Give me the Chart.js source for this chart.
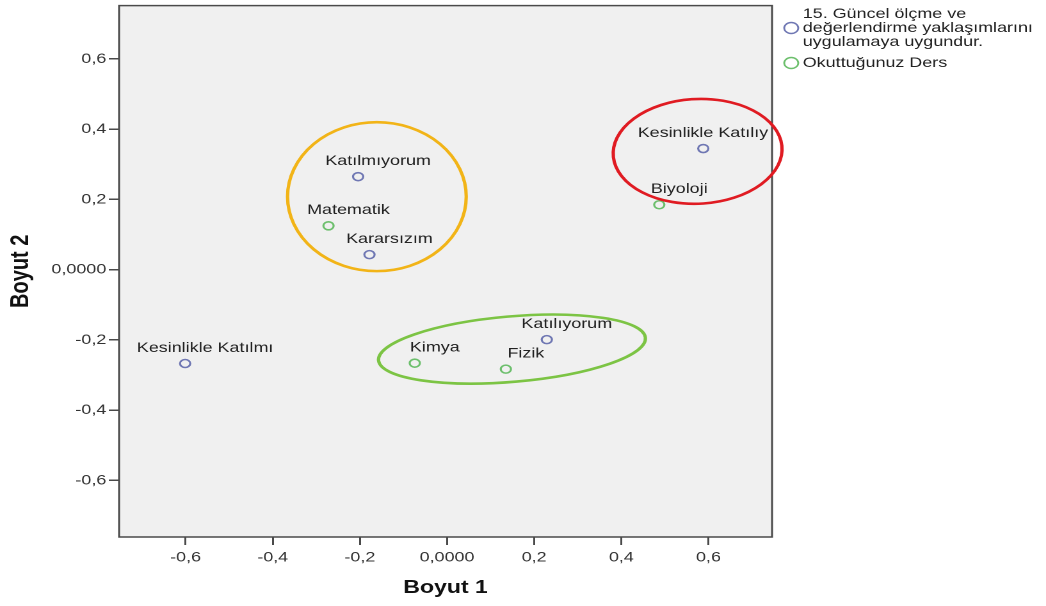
<!DOCTYPE html>
<html>
<head>
<meta charset="utf-8">
<script src="https://cdn.jsdelivr.net/npm/chart.js@4.4.0/dist/chart.umd.min.js"></script>
<style>
  html, body { margin: 0; padding: 0; background: #fff; overflow: hidden; }
  /* the original picture is stretched sideways, so the chart is too */
  #wrap { position: relative; width: 817px; height: 606px; transform: scaleX(1.2803); transform-origin: 0 0; }
</style>
</head>
<body>
<div id="wrap"><canvas id="chart"></canvas></div>
<script>
const xTicks = [-0.6, -0.4, -0.2, 0, 0.2, 0.4, 0.6];
const yTicks = [-0.6, -0.4, -0.2, 0, 0.2, 0.4, 0.6];

// 15. Güncel ölçme ... (answer categories)
const answerNames = ['Katılmıyorum', 'Kararsızım', 'Kesinlikle Katılmı', 'Katılıyorum', 'Kesinlikle Katılıy'];
const answerX = [-0.204, -0.178, -0.601, 0.229, 0.588];
const answerY = [0.265, 0.043, -0.267, -0.199, 0.345];

// Okuttuğunuz Ders
const courseNames = ['Matematik', 'Kimya', 'Fizik', 'Biyoloji'];
const courseX = [-0.272, -0.074, 0.135, 0.487];
const courseY = [0.125, -0.266, -0.283, 0.185];

const legendLines1 = ['15. Güncel ölçme ve', 'değerlendirme yaklaşımlarını', 'uygulamaya uygundur.'];
const legendText2 = 'Okuttuğunuz Ders';

// hand drawn circles round the groups (centre and radii in axis units)
const ellipses = [
  { cx: -0.161, cy: 0.208, rx: 0.205, ry: 0.212, rot: 0, color: '#f2b417' },
  { cx: 0.575, cy: 0.337, rx: 0.194, ry: 0.149, rot: -5, color: '#e01b22' },
  { cx: 0.149, cy: -0.226, rx: 0.308, ry: 0.093, rot: -6.4, color: '#7cc444' }
];

const FONT = 'Arial, "Liberation Sans", sans-serif';
const BLUE = '#6f77b3';
const GREEN = '#6cbf6c';

function fmt(v) {
  if (Math.abs(v) < 1e-9) return '0,0000';
  return v.toFixed(1).replace('.', ',');
}

const mdsPlugin = {
  id: 'mds',
  beforeDraw(chart) {
    const { ctx, chartArea: a } = chart;
    ctx.save();
    ctx.fillStyle = '#f0f0f0';
    ctx.fillRect(a.left, a.top, a.right - a.left, a.bottom - a.top);
    ctx.restore();
  },
  beforeDatasetsDraw(chart) {
    const { ctx, chartArea: a } = chart;
    ctx.save();
    ctx.strokeStyle = '#4a4a4a';
    ctx.lineWidth = 1.5;
    ctx.strokeRect(a.left, a.top, a.right - a.left, a.bottom - a.top);
    ctx.restore();
  },
  afterDatasetsDraw(chart) {
    const { ctx, chartArea: a, scales: { x, y } } = chart;
    const px = Math.abs(x.getPixelForValue(1) - x.getPixelForValue(0));
    const py = Math.abs(y.getPixelForValue(1) - y.getPixelForValue(0));

    // point names
    ctx.save();
    ctx.beginPath();
    ctx.rect(a.left, a.top, a.right - a.left, a.bottom - a.top);
    ctx.clip();
    ctx.font = '14px ' + FONT;
    ctx.fillStyle = '#222';
    ctx.textAlign = 'left';
    ctx.textBaseline = 'middle';
    chart.data.datasets.forEach((ds, i) => {
      chart.getDatasetMeta(i).data.forEach((pt, j) => {
        const t = ds.names[j];
        const w = ctx.measureText(t).width;
        let left = pt.x + 15.6 - w / 2;
        if (left + w > a.right - 3) left = a.right - 3 - w;
        ctx.fillText(t, left, pt.y - 15.5);
      });
    });
    ctx.restore();

    ctx.save();
    ellipses.forEach(e => {
      ctx.beginPath();
      ctx.ellipse(x.getPixelForValue(e.cx), y.getPixelForValue(e.cy),
        e.rx * px, e.ry * py, e.rot * Math.PI / 180, 0, Math.PI * 2);
      ctx.strokeStyle = e.color;
      ctx.lineWidth = 2.6;
      ctx.stroke();
    });
    ctx.restore();
  },
  afterDraw(chart) {
    const ctx = chart.ctx;
    ctx.save();
    ctx.font = '14px ' + FONT;
    ctx.fillStyle = '#222';
    ctx.textAlign = 'left';
    ctx.textBaseline = 'middle';
    legendLines1.forEach((t, i) => ctx.fillText(t, 627, 14 + i * 14));
    ctx.fillText(legendText2, 627, 63);
    ctx.lineWidth = 1.4;
    ctx.strokeStyle = BLUE;
    ctx.beginPath(); ctx.arc(618, 28, 5.5, 0, Math.PI * 2); ctx.stroke();
    ctx.strokeStyle = GREEN;
    ctx.beginPath(); ctx.arc(618, 63, 5.5, 0, Math.PI * 2); ctx.stroke();
    ctx.restore();

    // y title
    const a = chart.chartArea;
    ctx.save();
    ctx.font = 'bold 20px ' + FONT;
    ctx.fillStyle = '#111';
    ctx.textAlign = 'center';
    ctx.textBaseline = 'middle';
    ctx.translate(16.5, (a.top + a.bottom) / 2);
    ctx.rotate(-Math.PI / 2);
    ctx.fillText('Boyut 2', 0, 0);
    ctx.restore();
  }
};

new Chart(document.getElementById('chart'), {
  type: 'scatter',
  data: {
    datasets: [
      {
        label: legendLines1.join(' '),
        names: answerNames,
        data: answerX.map((v, i) => ({ x: v, y: answerY[i] })),
        borderColor: BLUE,
        backgroundColor: 'rgba(0,0,0,0)',
        borderWidth: 1.6,
        pointRadius: 4,
        pointHoverRadius: 4
      },
      {
        label: legendText2,
        names: courseNames,
        data: courseX.map((v, i) => ({ x: v, y: courseY[i] })),
        borderColor: GREEN,
        backgroundColor: 'rgba(0,0,0,0)',
        borderWidth: 1.6,
        pointRadius: 4,
        pointHoverRadius: 4
      }
    ]
  },
  options: {
    responsive: true,
    maintainAspectRatio: false,
    animation: false,
    devicePixelRatio: 2,
    layout: { padding: { top: 3, right: 214, bottom: 0, left: 0 } },
    plugins: { legend: { display: false }, tooltip: { enabled: false } },
    scales: {
      x: {
        type: 'linear',
        min: -0.7526,
        max: 0.7458,
        afterBuildTicks: s => { s.ticks = xTicks.map(v => ({ value: v })); },
        afterFit: s => { s.height = 69; s.paddingLeft = 0; s.paddingRight = 0; },
        border: { display: false },
        grid: { drawOnChartArea: false, drawTicks: true, tickLength: 8, color: '#4a4a4a', lineWidth: 1.5 },
        ticks: { color: '#333', font: { size: 14, family: FONT }, padding: 4, callback: v => fmt(v), maxRotation: 0 },
        title: { display: true, text: 'Boyut 1', color: '#111', font: { size: 18, weight: 'bold', family: FONT }, padding: { top: 0, bottom: 7 } }
      },
      y: {
        type: 'linear',
        min: -0.761,
        max: 0.752,
        afterBuildTicks: s => { s.ticks = yTicks.map(v => ({ value: v })); },
        afterFit: s => { s.width = 93; s.paddingTop = 0; s.paddingBottom = 0; },
        border: { display: false },
        grid: { drawOnChartArea: false, drawTicks: true, tickLength: 8, color: '#4a4a4a', lineWidth: 1.5 },
        ticks: { color: '#333', font: { size: 14, family: FONT }, padding: 2, callback: v => fmt(v) }
      }
    }
  },
  plugins: [mdsPlugin]
});
</script>
</body>
</html>
